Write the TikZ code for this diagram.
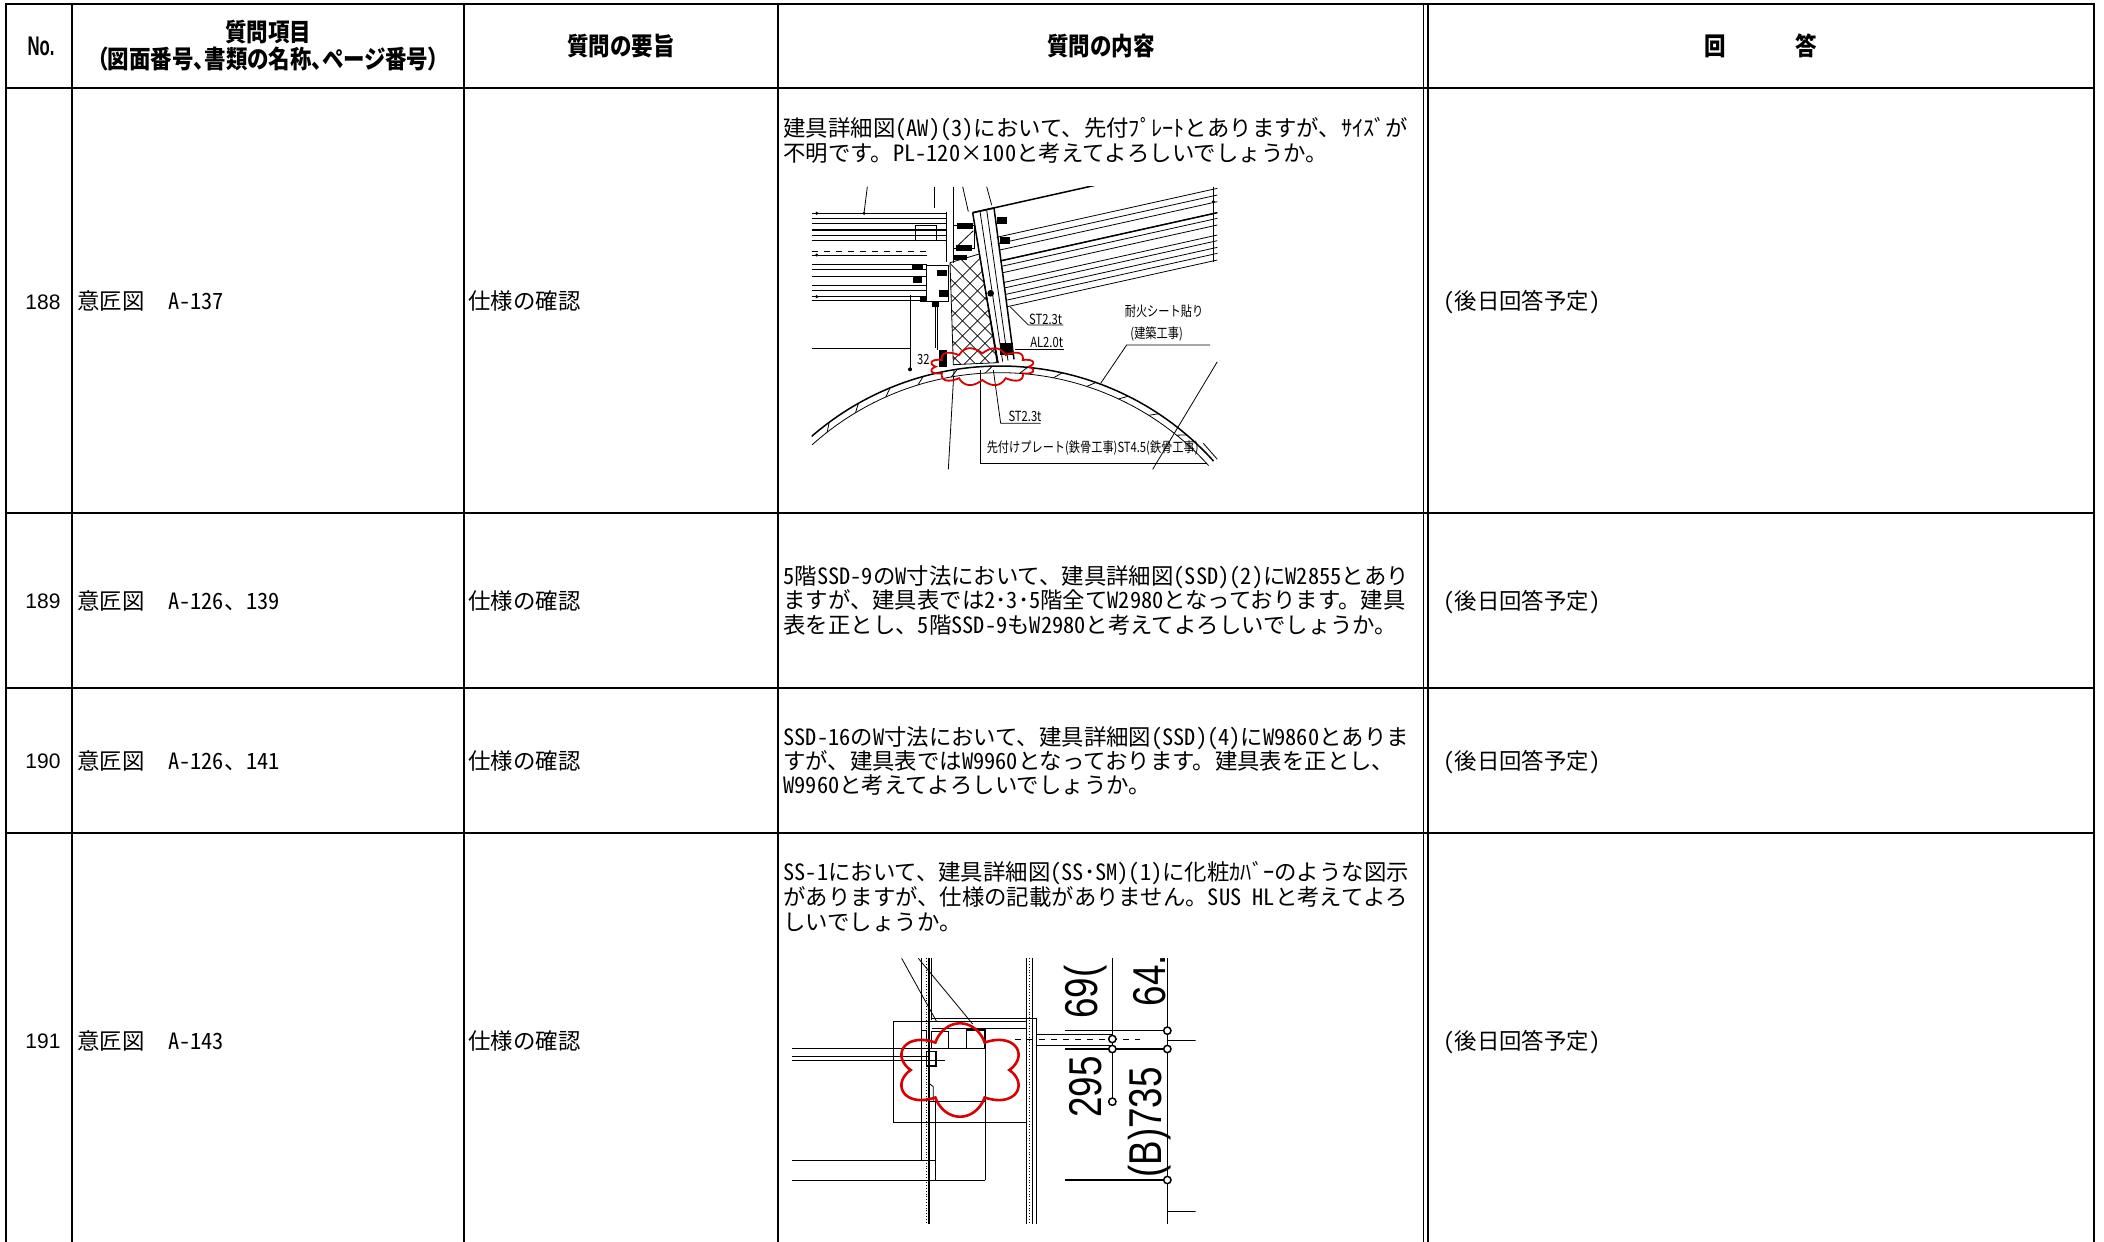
\documentclass[tikz,border=0pt]{standalone}
\usepackage{fontspec}
\setmainfont{Noto Sans CJK JP}
\newfontfamily\jpbody{Noto Sans CJK JP}[RawFeature={+hwid}]
\newfontfamily\jphead{Noto Sans CJK JP}[FakeStretch=0.86,RawFeature={+palt}]
\newfontfamily\jplabel{Noto Sans CJK JP}[FakeStretch=0.8]
\newfontfamily\arialf{Liberation Sans}
\newfontfamily\arialcad{Liberation Sans}[FakeStretch=0.8]
\newfontfamily\arialnarrow{Liberation Sans}[FakeStretch=0.62]
\begin{document}
\begin{tikzpicture}[x=0.5pt,y=-0.5pt,
  tline/.style={line width=1.25pt},
  dline/.style={line width=0.95pt},
  body/.style={inner sep=0pt, font=\jpbody\fontsize{11.2}{13}\selectfont},
  num/.style={inner sep=0pt, font=\arialf\fontsize{10.5}{12}\selectfont},
  head/.style={inner sep=0pt, font=\jphead\bfseries\fontsize{12.5}{14}\selectfont},
  dthin/.style={line width=0.4pt},
  dmed/.style={line width=0.75pt},
  cloudline/.style={draw=red!85!black, line width=0.9pt},
  lbl/.style={inner sep=0pt, font=\jplabel\fontsize{7}{8}\selectfont},
  dimtxt/.style={inner sep=0pt, font=\arialcad\fontsize{23}{25}\selectfont, rotate=90, anchor=west}
]
\useasboundingbox (0,0) rectangle (2104,1242);
\fill[white] (0,0) rectangle (2104,1242);

% ---------------- table grid ----------------
\draw[tline] (6,1242) -- (6,4) -- (2094,4) -- (2094,1242);
\foreach \yy in {88,513,688,833} \draw[tline] (6,\yy) -- (2094,\yy);
\foreach \xx in {72,464,778} \draw[tline] (\xx,4) -- (\xx,1242);
\draw[dline] (1423.5,4) -- (1423.5,1242);
\draw[dline] (1427.8,4) -- (1427.8,1242);

% ---------------- header ----------------
\node[head, anchor=base] (hNo) at (41,55.5) {\arialnarrow\bfseries\fontsize{13.5}{15}\selectfont No.};
\node[head, anchor=base] (hItem1) at (268,41.5) {質問項目};
\node[head, anchor=base] (hItem2) at (268,68.5) {（図面番号、書類の名称、ページ番号）};
\node[head, anchor=base] (hGist) at (621,55) {質問の要旨};
\node[head, anchor=base] (hCont) at (1101,55) {質問の内容};
\node[head, anchor=base] (hAns1) at (1715,55) {回};
\node[head, anchor=base] (hAns2) at (1806,55) {答};

% ---------------- row numbers ----------------
\node[num, anchor=base] (n188) at (43,309.5) {188};
\node[num, anchor=base] (n189) at (43,608.5) {189};
\node[num, anchor=base] (n190) at (43,768.5) {190};
\node[num, anchor=base] (n191) at (43,1048.5) {191};

% ---------------- item column ----------------
\node[body, anchor=base west] (i188) at (77,309) {意匠図\hspace{1.05em}A-137};
\node[body, anchor=base west] (i189) at (77,609) {意匠図\hspace{1.05em}A-126、139};
\node[body, anchor=base west] (i190) at (77,769) {意匠図\hspace{1.05em}A-126、141};
\node[body, anchor=base west] (i191) at (77,1049) {意匠図\hspace{1.05em}A-143};

% ---------------- gist column ----------------
\node[body, anchor=base west] (g188) at (468,309) {仕様の確認};
\node[body, anchor=base west] (g189) at (468,609) {仕様の確認};
\node[body, anchor=base west] (g190) at (468,769) {仕様の確認};
\node[body, anchor=base west] (g191) at (468,1049) {仕様の確認};

% ---------------- answer column ----------------
\node[body, anchor=base west] (a188) at (1443,309) {(後日回答予定)};
\node[body, anchor=base west] (a189) at (1443,609) {(後日回答予定)};
\node[body, anchor=base west] (a190) at (1443,769) {(後日回答予定)};
\node[body, anchor=base west] (a191) at (1443,1049) {(後日回答予定)};

% ---------------- content column ----------------
\node[body, anchor=base west] (q188a) at (783,136) {建具詳細図(AW)(3)において、先付ﾌﾟﾚｰﾄとありますが、ｻｲｽﾞが};
\node[body, anchor=base west] (q188b) at (783,161) {不明です。PL-120×100と考えてよろしいでしょうか。};

\node[body, anchor=base west] (q189a) at (783,584) {5階SSD-9のW寸法において、建具詳細図(SSD)(2)にW2855とあり};
\node[body, anchor=base west] (q189b) at (783,608.5) {ますが、建具表では2･3･5階全てW2980となっております。建具};
\node[body, anchor=base west] (q189c) at (783,633) {表を正とし、5階SSD-9もW2980と考えてよろしいでしょうか。};

\node[body, anchor=base west] (q190a) at (783,745) {SSD-16のW寸法において、建具詳細図(SSD)(4)にW9860とありま};
\node[body, anchor=base west] (q190b) at (783,769) {すが、建具表ではW9960となっております。建具表を正とし、};
\node[body, anchor=base west] (q190c) at (783,793) {W9960と考えてよろしいでしょうか。};

\node[body, anchor=base west] (q191a) at (783,880) {SS-1において、建具詳細図(SS･SM)(1)に化粧ｶﾊﾞｰのような図示};
\node[body, anchor=base west] (q191b) at (783,905) {がありますが、仕様の記載がありません。SUS HLと考えてよろ};
\node[body, anchor=base west] (q191c) at (783,930) {しいでしょうか。};

% ================= drawing 1 (row 188) =================
\begin{scope}[shift={(780,170)}, scale=1/3]
\begin{scope}
\clip (95,50) rectangle (1312,898);
% top verticals
\draw[dthin] (262,50) .. controls (258,90) .. (252,130);
\fill (252,130) circle (5);
\draw[dthin] (462,50) -- (462,115);
\draw[dthin] (520,50) -- (520,125);
\draw[dthin] (548,50) -- (565,125);
\draw[dthin] (620,50) -- (635,105);
% left window stack
\foreach \yy in {130,145,160,197,212} \draw[dthin] (95,\yy) -- (500,\yy);
\draw[dmed] (95,180) -- (500,180);
\draw[dthin, dashed] (95,245) -- (440,245);
\draw[dthin] (95,255) -- (440,255);
\foreach \yy in {282,298,318,345,362,392} \draw[dthin] (95,\yy) -- (440,\yy);
\draw[dmed] (95,380) -- (440,380);
\fill (110,130) circle (5);
\fill (110,255) circle (5);
\fill (110,380) circle (5);
\draw[dthin] (405,165) rectangle (470,210);
\draw[dmed] (500,125) -- (500,275);
\draw[dthin] (520,125) -- (520,280);
\draw[dthin] (440,285) rectangle (505,395);
\draw[dthin] (465,395) -- (465,535);
\draw[dmed] (472,395) -- (472,540);
\draw[dthin] (520,165) rectangle (582,235);
\draw[dthin] (528,232) -- (580,182);
% black blocks
\fill (395,285) rectangle (430,300);
\fill (400,320) rectangle (425,340);
\fill (420,380) rectangle (440,396);
\fill (455,396) rectangle (478,412);
\fill (470,300) rectangle (500,318);
\fill (478,360) rectangle (505,380);
\fill (530,160) rectangle (580,176);
\fill (528,226) rectangle (575,242);
\fill (520,255) rectangle (560,270);
\fill (660,520) rectangle (700,555);
\fill (478,540) rectangle (500,590);
\fill (632,370) circle (10);
\fill (652,140) rectangle (680,162);
\fill (660,200) rectangle (690,222);
% cross-hatched block
\begin{scope}
\clip (510,278) -- (598,252) -- (655,578) -- (520,584) -- cycle;
\foreach \i in {-3,...,15} {
  \draw[dthin] (\i*45,1000) -- (\i*45+1000,0);
  \draw[dthin] (\i*45-400,0) -- (\i*45+600,1000);
}
\end{scope}
\draw[dthin] (510,278) -- (598,252) -- (655,578) -- (520,584) -- cycle;
% slanted frame strip
\draw[dmed] (578,128) -- (652,578);
\draw[dthin] (600,124) -- (668,575);
\draw[dthin] (620,120) -- (684,572);
\draw[dmed] (642,114) -- (702,568);
\draw[dmed] (578,128) -- (642,114);
\draw[dmed] (578,128) -- (1312,-36);
% rotated window lines
\foreach \xs/\ys/\yr in {650/202/55, 653/221.5/75, 656/240.8/95, 661/272.7/128, 663.5/289.2/145, 666.5/308.5/165, 671/337.5/195, 673.5/353.9/212, 676.5/373.3/232, 679/390.7/250, 682/410/270}
  \draw[dthin] (\xs,\ys) -- (1312,\yr);
\draw[dmed] (661,272.7) -- (1312,128);
\draw[dthin] (1300,50) -- (1300,275);
\fill (1300,95) circle (5);
% arc (double line with ticks)
\draw[dmed] plot[domain=-132:-42, samples=90] ({660+862*cos(\x)},{1450+862*sin(\x)});
\draw[dthin] plot[domain=-132:-42, samples=90] ({660+842*cos(\x)},{1450+842*sin(\x)});
\foreach \a in {-128,-121,...,-46}
  \draw[dthin] ({660+842*cos(\a)},{1450+842*sin(\a)}) -- ({660+862*cos(\a+1.5)},{1450+862*sin(\a+1.5)});
% dimension 32
\draw[dthin] (95,535) -- (392,535);
\draw[dthin] (390,375) -- (390,600);
\fill (390,598) circle (6);
\node[lbl] (d32) at (430,568) {32};
% labels and leaders
\node[lbl] (l1) at (797,447) {ST2.3t};
\draw[dthin] (690,410) -- (745,465) -- (850,465);
\node[lbl] (l2) at (800,518) {AL2.0t};
\draw[dthin] (705,537) -- (852,537);
\node[lbl] (l3) at (1152,425) {耐火シート貼り};
\node[lbl] (l4) at (1130,492) {(建築工事)};
\draw[dthin] (962,640) -- (1040,525) -- (1290,525);
\node[lbl] (l5) at (735,738) {ST2.3t};
\draw[dthin] (640,600) -- (662,760) -- (782,760);
\node[lbl] (l6) at (938,833) {先付けプレート(鉄骨工事)ST4.5(鉄骨工事)};
\draw[dthin] (600,600) -- (600,880) -- (1282,880);
\draw[dthin] (1270,820) -- (1312,868);
\draw[dthin] (522,600) -- (505,898);
\draw[dthin] (1312,575) -- (1118,898);
% revision cloud
\draw[cloudline] plot[domain=0:360, samples=361] ({607+(140+17*abs(sin(6*\x)))*cos(\x)},{590+(40+17*abs(sin(6*\x)))*sin(\x)}) -- cycle;
\end{scope}
\end{scope}

% ================= drawing 2 (row 191) =================
\begin{scope}[shift={(780,940)}, scale=1/3]
\begin{scope}
\clip (35,55) rectangle (1247,852);
\draw[dthin] (365,55) -- (470,245);
\draw[dthin] (415,55) -- (578,252);
% left vertical group
\draw[dmed] (425,55) -- (425,662);
\draw[dthin, densely dotted] (438,55) -- (438,852);
\draw[dmed] (447,55) -- (447,852);
\draw[dthin] (455,55) -- (455,240);
% right vertical group
\draw[dmed] (740,55) -- (740,852);
\draw[dthin, densely dotted] (748,55) -- (748,852);
\draw[dmed] (757,55) -- (757,852);
\draw[dthin] (770,235) -- (770,852);
% boxes
\draw[dthin] (340,245) rectangle (740,548);
\draw[dthin] (455,235) -- (770,235);
\draw[dthin] (455,265) -- (740,265);
\draw[dmed] (455,275) rectangle (505,325);
\draw[dmed] (560,270) rectangle (615,325);
\draw[dthin] (447,325) rectangle (615,485);
\draw[dthin] (615,485) -- (615,720);
\draw[dthin] (465,485) -- (465,720);
\draw[dmed] (440,335) rectangle (468,378);
\draw[dthin] (425,270) -- (440,270) -- (440,300) -- (425,300);
\draw[dthin] (447,430) -- (460,440) -- (460,485);
% horizontals
\draw[dthin] (35,325) -- (447,325);
\draw[dthin] (35,348) -- (447,348);
\draw[dthin] (35,362) -- (495,362);
\draw[dthin] (35,662) -- (465,662);
\draw[dthin] (35,720) -- (615,720);
\draw[dthin, dashed] (705,298) -- (1080,298);
\draw[dthin] (770,283) -- (1000,283);
\draw[dthin] (770,315) -- (990,315);
% dimension lines
\draw[dthin] (997,55) -- (997,485);
\draw[dthin] (1162,55) -- (1162,852);
\draw[dmed] (855,272) -- (1172,272);
\draw[dmed] (855,327) -- (1172,327);
\draw[dmed] (855,720) -- (1162,720);
\draw[dthin] (1162,300) -- (1247,300);
\draw[dthin] (1162,815) -- (1247,815);
\foreach \cx/\cy in {997/297, 997/327, 997/485, 1162/272, 1162/327, 1162/720}
  \draw[dmed, fill=white] (\cx,\cy) circle (11);
% rotated dimension texts
\node[dimtxt] (t690) at (918,237) {69(};
\node[dimtxt] (t295) at (918,534) {295};
\node[dimtxt] (t64) at (1108,200) {64.};
\node[dimtxt] (t735) at (1108,714) {(B)735};
% revision cloud
\draw[cloudline, line width=1.3pt] plot[domain=0:360, samples=361] ({540+(148+45*abs(sin(3*\x)))*cos(\x)},{390+(95+45*abs(sin(3*\x)))*sin(\x)}) -- cycle;
\end{scope}
\end{scope}

\end{tikzpicture}
\end{document}
